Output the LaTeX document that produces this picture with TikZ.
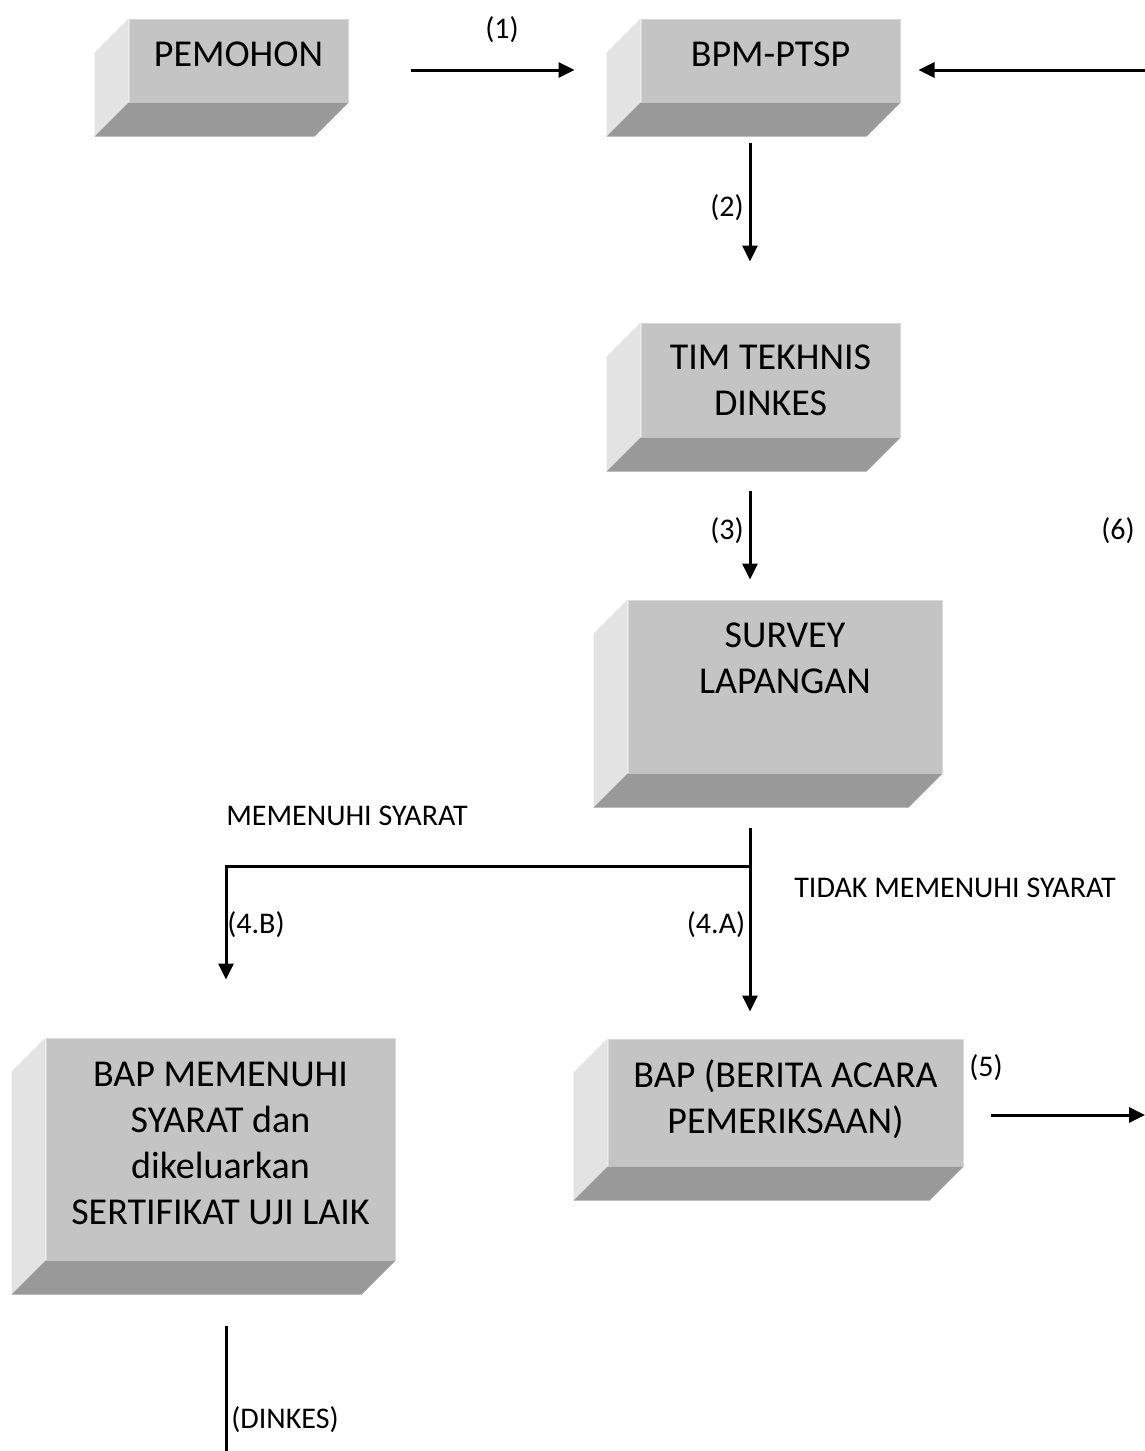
\documentclass[tikz,border=0pt]{standalone}
\usepackage{fontspec}
\setmainfont{Carlito}
\usetikzlibrary{arrows.meta}

\definecolor{facegray}{HTML}{C4C4C4}
\definecolor{sidegray}{HTML}{E3E3E3}
\definecolor{basegray}{HTML}{999999}
\definecolor{edgegray}{HTML}{D9D9D9}

% bevel faces of a box: left side and bottom
\newcommand{\bevel}[1]{%
  \fill[sidegray] ([shift={(-34,34)}]#1.north west) -- (#1.north west)
    -- (#1.south west) -- ([shift={(-34,34)}]#1.south west) -- cycle;
  \fill[basegray] (#1.south west) -- (#1.south east)
    -- ([shift={(-34,34)}]#1.south east) -- ([shift={(-34,34)}]#1.south west) -- cycle;}

\begin{document}
\begin{tikzpicture}
  [x=1pt, y=-1pt,
   >={Triangle[length=16pt, width=15pt]},
   flow/.style={->, line width=3pt},
   line/.style={line width=3pt},
   box/.style={fill=facegray, draw=edgegray, line width=1pt, inner sep=0pt,
               align=center, text depth=12pt,
               font=\fontsize{38}{46}\selectfont},
   tag/.style={inner sep=0pt, font=\fontsize{30}{36}\selectfont}
  ]
  \useasboundingbox (0,0) rectangle (1145,1451);

  \node[box, minimum width=219pt, minimum height=83pt]  (pem)  at (238.5,60.5)  {PEMOHON};
  \node[box, minimum width=259pt, minimum height=83pt]  (bpm)  at (770.5,60.5)  {BPM-PTSP};
  \node[box, minimum width=259pt, minimum height=114pt, text depth=0pt]
                                                        (tim)  at (770.5,380)   {TIM TEKHNIS\\DINKES};
  \node[box, minimum width=314pt, minimum height=173pt, text depth=56pt]
                                                        (sur)  at (785,686.5)   {SURVEY\\LAPANGAN};
  \node[box, minimum width=349pt, minimum height=222pt] (bapb) at (220.5,1149)  {BAP MEMENUHI\\SYARAT dan\\dikeluarkan\\SERTIFIKAT UJI LAIK};
  \node[box, minimum width=355pt, minimum height=127pt] (bapa) at (785.5,1102.5) {BAP (BERITA ACARA\\PEMERIKSAAN)};

  \bevel{pem} \bevel{bpm} \bevel{tim} \bevel{sur} \bevel{bapb} \bevel{bapa}

  \coordinate (fork) at ([shift={(-35,93)}]sur.south);
  \coordinate (in6)  at (1145,70);
  \coordinate (out5) at (1145,1115);
  \coordinate (outd) at (226,1451);

  \draw[flow] ([shift={(62,9.5)}]pem.east) -- ([shift={(-66,9.5)}]bpm.west);
  \draw[flow] (in6) -- ([shift={(18,9.5)}]bpm.east);
  \draw[flow] ([shift={(-20.5,40)}]bpm.south) -- ([shift={(-20.5,-61)}]tim.north);
  \draw[flow] ([shift={(-20.5,53)}]tim.south) -- ([shift={(-35,-20)}]sur.north);
  \draw[flow] ([shift={(-35,54)}]sur.south) -- ([shift={(-35.5,-27)}]bapa.north);
  \draw[flow] (fork) -| ([shift={(5.5,-58)}]bapb.north);
  \draw[flow] ([shift={(27,12.5)}]bapa.east) -- (out5);
  \draw[line] ([shift={(5.5,65)}]bapb.south) -- (outd);

  \node[tag] (t1)  at (502,30)   {(1)};
  \node[tag] (t2)  at (727,208)  {(2)};
  \node[tag] (t3)  at (727,531)  {(3)};
  \node[tag] (t6)  at (1118,531) {(6)};
  \node[tag] (tms) at (347,816)  {MEMENUHI SYARAT};
  \node[tag] (tts) at (955,888)  {TIDAK MEMENUHI SYARAT};
  \node[tag] (t4b) at (256,925)  {(4.B)};
  \node[tag] (t4a) at (716,925)  {(4.A)};
  \node[tag] (t5)  at (986,1068) {(5)};
  \node[tag] (td)  at (285,1420) {(DINKES)};
\end{tikzpicture}
\end{document}
